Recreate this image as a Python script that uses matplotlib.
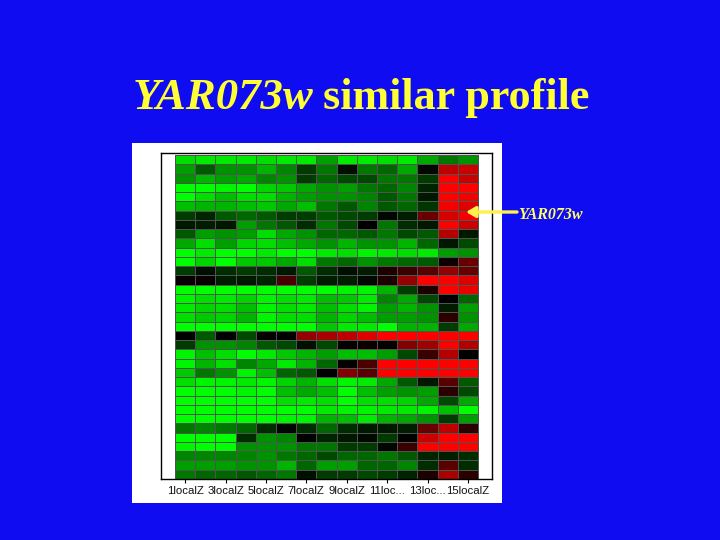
import numpy as np
import matplotlib
matplotlib.use("Agg")
import matplotlib.pyplot as plt
from matplotlib.colors import LinearSegmentedColormap
from matplotlib.patches import Rectangle

W, H = 720, 540
BLUE = '#0F0CF2'
YELLOW = '#FFFF33'

tick_labels = ['1localZ', '3localZ', '5localZ', '7localZ', '9localZ', '11loc...', '13loc...', '15localZ']
tick_columns = [0, 2, 4, 6, 8, 10, 12, 14]

profile_rows = [
    [-85,-90,-90,-90,-85,-90,-90,-55,-90,-90,-85,-90,-60,-40,-50],
    [-55,-30,-50,-50,-65,-45,-20,-40,-5,-40,-35,-60,-3,70,75],
    [-50,-65,-55,-60,-45,-50,-20,-35,-25,-25,-40,-40,-20,100,75],
    [-100,-100,-95,-100,-80,-75,-60,-50,-55,-40,-35,-45,-12,100,100],
    [-100,-85,-70,-85,-85,-65,-55,-50,-50,-45,-30,-40,-8,100,95],
    [-70,-65,-65,-70,-75,-60,-70,-40,-30,-45,-30,-35,-18,95,85],
    [-20,-12,-30,-35,-30,-20,-20,-30,-25,-20,-2,-10,35,80,95],
    [-8,-10,-8,-55,-40,-30,-15,-40,-25,0,-40,-15,-8,100,75],
    [-30,-55,-50,-55,-85,-60,-50,-35,-35,-30,-40,-25,-30,65,-8],
    [-60,-85,-55,-80,-85,-70,-60,-50,-65,-50,-50,-65,-35,-8,-25],
    [-100,-90,-100,-100,-90,-100,-100,-90,-85,-95,-90,-85,-90,-55,-50],
    [-100,-80,-100,-75,-75,-60,-85,-40,-35,-50,-40,-35,-30,5,35],
    [-20,-5,-15,-20,-15,-8,-30,-15,-5,-10,10,20,30,50,35],
    [3,3,-10,-8,-12,25,-20,-10,-10,-3,10,50,100,100,85],
    [-100,-100,-100,-100,-100,-100,-100,-100,-95,-95,-65,-20,10,100,90],
    [-95,-85,-90,-80,-95,-85,-90,-70,-75,-90,-45,-60,-25,0,-35],
    [-90,-80,-85,-70,-95,-85,-90,-70,-85,-95,-55,-65,-50,-10,-55],
    [-85,-75,-80,-65,-95,-85,-85,-65,-80,-70,-55,-55,-50,15,-50],
    [-100,-100,-100,-100,-100,-100,-100,-75,-90,-90,-100,-65,-65,-20,-60],
    [0,-30,0,-25,2,0,50,60,70,85,100,100,100,100,100],
    [-20,-50,-50,-45,-30,-25,-5,-25,3,5,3,45,55,100,65],
    [-95,-70,-85,-100,-90,-75,-65,-55,-70,-70,-55,-25,20,65,0],
    [-95,-65,-85,-45,-60,-90,-65,-35,2,25,100,100,100,100,100],
    [-75,-40,-50,-95,-70,-35,-30,0,45,30,100,100,100,100,100],
    [-85,-95,-95,-90,-95,-80,-65,-85,-95,-90,-60,-30,-8,30,-30],
    [-100,-100,-100,-95,-100,-70,-60,-70,-100,-70,-55,-50,-55,15,-25],
    [-100,-100,-100,-100,-100,-85,-90,-85,-100,-85,-85,-80,-60,-25,-60],
    [-100,-100,-100,-100,-100,-100,-100,-90,-95,-95,-90,-90,-95,-70,-100],
    [-100,-100,-100,-100,-100,-95,-95,-65,-70,-90,-65,-60,-50,-20,-55],
    [-40,-45,-40,-35,-15,-2,-15,-35,-15,-8,-8,-10,35,70,15],
    [-100,-100,-100,-15,-50,-45,0,-12,-8,-3,-20,0,75,100,100],
    [-95,-100,-100,-50,-50,-50,-40,-40,-20,-20,-2,20,100,100,100],
    [-45,-45,-45,-45,-50,-40,-35,-25,-35,-35,-40,-30,-12,-10,-15],
    [-55,-55,-55,-50,-50,-65,-35,-55,-55,-35,-35,-45,-15,30,-15],
    [-40,-35,-35,-30,-35,-40,-5,-20,-20,-25,-20,-12,10,60,15],
]


def fx(px):
    return px / W


def fy(py):
    return 1 - py / H


fig = plt.figure(figsize=(7.2, 5.4), dpi=100, facecolor=BLUE)

# white picture panel, behind the axes
fig.add_artist(Rectangle((fx(132), fy(503)), 370 / W, 360 / H, zorder=-5,
                         transform=fig.transFigure, facecolor='white', edgecolor='none'))

# heatmap axes (left 161, right 492, top 153, bottom 479 in pixels)
ax = fig.add_axes([fx(161), fy(479), (492 - 161) / W, (479 - 153) / H], facecolor='white')
cmap = LinearSegmentedColormap.from_list(
    'gbr', [(0.0, '#00FF00'), (0.25, '#009400'), (0.5, '#000000'), (0.75, '#940000'), (1.0, '#FF0000')])
data = np.array(profile_rows, dtype=float)
ax.pcolormesh(np.arange(data.shape[1] + 1), np.arange(data.shape[0] + 1), data,
              cmap=cmap, vmin=-100, vmax=100, edgecolors='#4E554E', linewidth=0.5)
col_w = 20.2
row_h = 324 / 35
ax.set_xlim(-14 / col_w, 15 + 14 / col_w)
ax.set_ylim(35, -2 / row_h)
ax.set_yticks([])
ax.set_xticks(np.array(tick_columns) + 0.5)
ax.set_xticklabels(tick_labels, family='Liberation Sans', fontsize=8.2, color='#111111')
ax.tick_params(axis='x', length=3.2, width=0.8, pad=1.5, color='black')
for s in ax.spines.values():
    s.set_linewidth(1.0)
    s.set_color('black')

# title, two runs
fig.text(fx(133), fy(109), 'YAR073w', family='Liberation Serif', style='italic', weight='bold',
         fontsize=32.2, color=YELLOW, ha='left', va='baseline')
fig.text(fx(323), fy(109), 'similar profile', family='Liberation Serif', weight='bold',
         fontsize=31.8, color=YELLOW, ha='left', va='baseline')

# gene callout
fig.text(fx(518), fy(219), 'YAR073w', family='Liberation Serif', style='italic', weight='bold',
         fontsize=11.5, color='#FFFF66', ha='left', va='baseline')
ax.annotate('', xy=(fx(466), fy(212)), xytext=(fx(517), fy(212)),
            xycoords='figure fraction', textcoords='figure fraction', annotation_clip=False,
            arrowprops=dict(arrowstyle='-|>,head_length=0.55,head_width=0.32', color='#FFF04A',
                            lw=2.4, shrinkA=0, shrinkB=0))

fig.savefig('out.png', dpi=100, facecolor=BLUE)
